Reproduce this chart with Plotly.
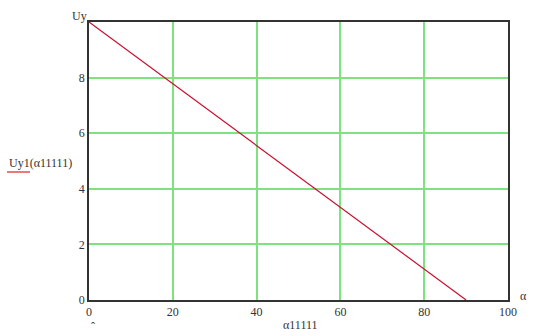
import plotly.graph_objects as go

# Data
alpha = [0, 90]
uy1 = [10, 0]
x_ticks = [0, 20, 40, 60, 80, 100]
y_ticks = [0, 2, 4, 6, 8]

W, H = 550, 336
L, R, T, B = 89, 42, 22, 36
pw, ph = W - L - R, H - T - B

def px(x):
    return (x - L) / pw

def py(y):
    return (H - B - y) / ph

FONT = "'Liberation Serif', 'Times New Roman', serif"
TXT = "#333333"
GRID = "#7ee37e"

fig = go.Figure()
fig.add_trace(go.Scatter(x=alpha, y=uy1, mode="lines",
                         line=dict(color="#c8102e", width=1.2),
                         showlegend=False, hoverinfo="skip"))

axis_common = dict(showgrid=True, gridcolor=GRID, gridwidth=1.5,
                   showline=True, linecolor="#333333", linewidth=1.5,
                   mirror=True, zeroline=False, ticks="",
                   tickfont=dict(family=FONT, size=12, color=TXT))

fig.update_xaxes(range=[0, 100], tickvals=x_ticks,
                 ticktext=[str(v) for v in x_ticks], **axis_common)
fig.update_yaxes(range=[0, 10], tickvals=y_ticks + [10],
                 ticktext=[str(v) for v in y_ticks] + [""], **axis_common)

anns = [
    dict(text="Uy", x=px(79), y=py(16)),
    dict(text="Uy1(α11111)", x=px(40), y=py(163)),
    dict(text="α11111", x=px(300), y=py(325)),
    dict(text="α", x=px(523), y=py(296)),
    dict(text="ˆ", x=px(93), y=py(327)),
]
for a in anns:
    fig.add_annotation(text=a["text"], x=a["x"], y=a["y"], xref="paper", yref="paper",
                       showarrow=False, xanchor="center", yanchor="middle",
                       font=dict(family=FONT, size=12, color=TXT))

fig.add_shape(type="line", xref="paper", yref="paper",
              x0=px(7), x1=px(30), y0=py(172), y1=py(172),
              line=dict(color="#d62020", width=1.2))

fig.update_layout(width=W, height=H, margin=dict(l=L, r=R, t=T, b=B),
                  paper_bgcolor="white", plot_bgcolor="white",
                  font=dict(family=FONT, size=12, color=TXT))

fig.write_html("out.html")
